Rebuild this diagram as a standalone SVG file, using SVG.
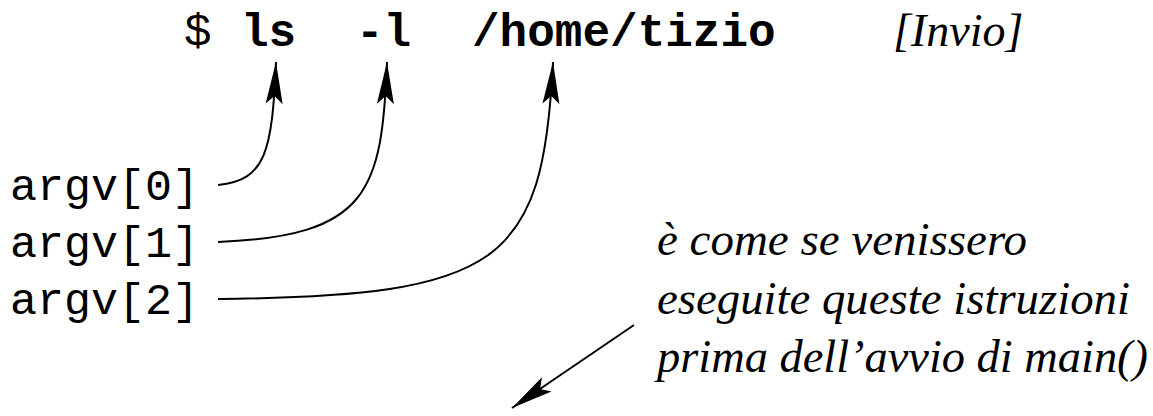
<svg xmlns="http://www.w3.org/2000/svg" width="1153" height="416" viewBox="0 0 1153 416">
  <style>
    .mono { font-family: "Liberation Mono", "Courier New", monospace; fill: #000; }
    .cmd { font-size: 46px; }
    .bold { font-weight: bold; }
    .arg { font-size: 45px; }
    .note { font-family: "Liberation Serif", "Times New Roman", serif; font-style: italic; font-size: 46px; fill: #000; }
    .big { font-size: 47px; }
    .link { fill: none; stroke: #000; stroke-width: 2; }
  </style>
  <defs>
    <marker id="head" markerUnits="userSpaceOnUse" viewBox="-42 -10 44 20" refX="0" refY="0" markerWidth="44" markerHeight="20" orient="auto" overflow="visible">
      <path d="M0,0 L-42,-8.5 L-34,0 L-42,8.5 Z" fill="#000"/>
    </marker>
  </defs>

  <rect width="1153" height="416" fill="#fff"/>

  <!-- command line -->
  <g id="command">
    <text class="mono cmd" x="184" y="46">$</text>
    <text class="mono cmd bold" x="241" y="46">ls</text>
    <text class="mono cmd bold" x="356" y="46">-l</text>
    <text class="mono cmd bold" x="472" y="46">/home/tizio</text>
    <text class="note" x="893" y="46">[Invio]</text>
  </g>

  <!-- argument vector entries -->
  <g id="argv0"><text class="mono arg" x="10" y="200">argv[0]</text></g>
  <g id="argv1"><text class="mono arg" x="10" y="257">argv[1]</text></g>
  <g id="argv2"><text class="mono arg" x="10" y="314">argv[2]</text></g>

  <!-- explanatory note -->
  <g id="note">
    <text class="note big" x="657" y="255" textLength="370" lengthAdjust="spacingAndGlyphs">è come se venissero</text>
    <text class="note big" x="657" y="314" textLength="473" lengthAdjust="spacingAndGlyphs">eseguite queste istruzioni</text>
    <text class="note big" x="657" y="372" textLength="491" lengthAdjust="spacingAndGlyphs">prima dell’avvio di main()</text>
  </g>

  <!-- connectors -->
  <g id="connectors">
    <path class="link" d="M218,185 C266,180 272,152 276,62" marker-end="url(#head)"/>
    <path class="link" d="M218,242 C368,236 382,192 387,62" marker-end="url(#head)"/>
    <path class="link" d="M218,299 C500,296 543,265 553,62" marker-end="url(#head)"/>
    <path class="link" d="M634,325 L512,408" marker-end="url(#head)"/>
  </g>
</svg>
